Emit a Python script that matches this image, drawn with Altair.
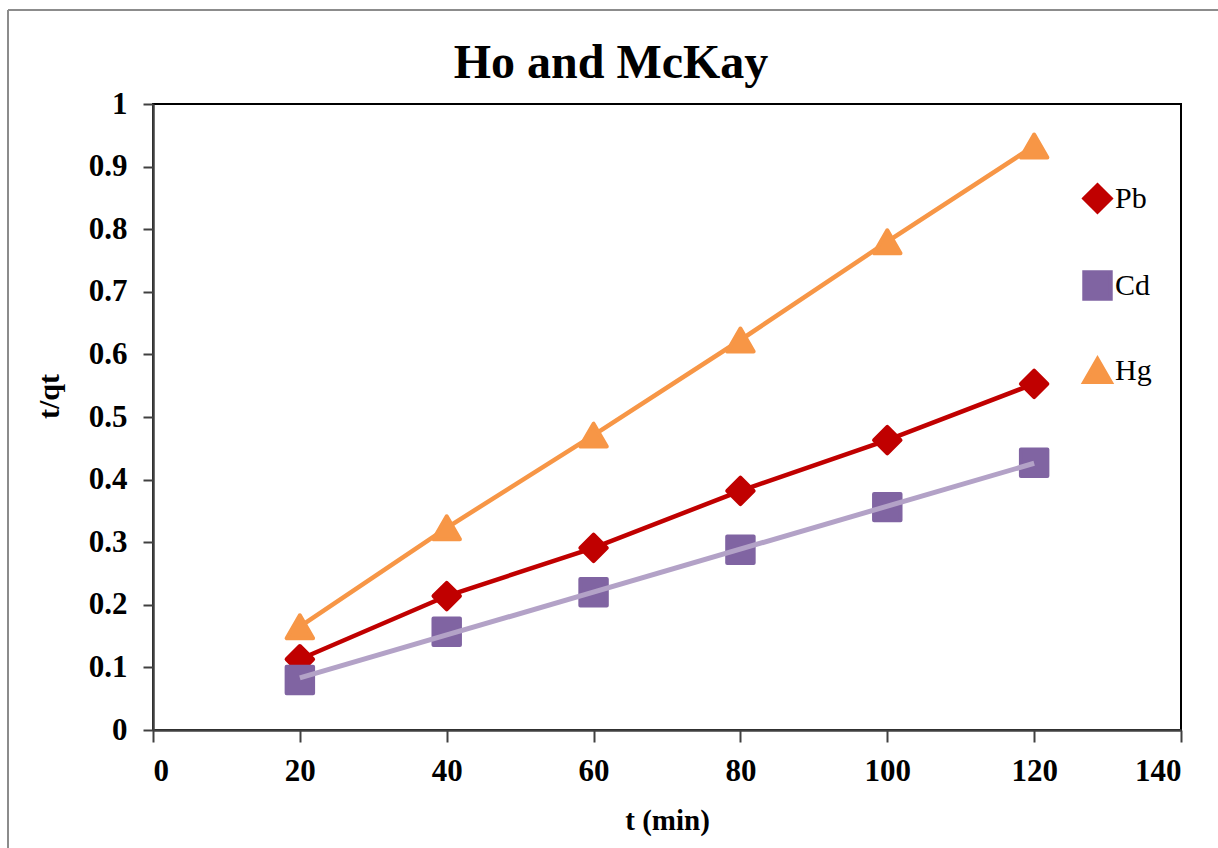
import altair as alt
import pandas as pd

# Ho and McKay (pseudo-second-order) plot: t/qt against contact time
times = [20, 40, 60, 80, 100, 120]
pb_vals = [0.113, 0.214, 0.291, 0.382, 0.463, 0.553]
cd_vals = [0.080, 0.157, 0.220, 0.288, 0.356, 0.427]
hg_vals = [0.165, 0.323, 0.471, 0.623, 0.780, 0.933]

metals = ["Pb", "Cd", "Hg"]
marker_colors = ["#C00000", "#8064A2", "#F79646"]
marker_shapes = ["diamond", "square", "triangle-up"]
x_ticks = [0, 20, 40, 60, 80, 100, 120, 140]
y_ticks = [0, 0.1, 0.2, 0.3, 0.4, 0.5, 0.6, 0.7, 0.8, 0.9, 1]
chart_title = "Ho and McKay"

rows = []
for metal, vals in zip(metals, [pb_vals, cd_vals, hg_vals]):
    for t, v in zip(times, vals):
        rows.append({"t": t, "tq": v, "metal": metal})
df = pd.DataFrame(rows)

FONT = "Liberation Serif"

x_enc = alt.X(
    "t:Q",
    scale=alt.Scale(domain=[0, 140], nice=False),
    axis=alt.Axis(
        values=x_ticks, title="t (min)", tickSize=12, labelPadding=14,
        titleFontSize=29, titleBaseline="alphabetic", titleY=99,
    ),
)
y_enc = alt.Y(
    "tq:Q",
    scale=alt.Scale(domain=[0, 1], nice=False),
    axis=alt.Axis(
        values=y_ticks, format=".1~f", title="t/qt", tickSize=10, labelPadding=16,
        titleFontSize=30, titleBaseline="alphabetic", titleX=-95, titleY=292,
        titleAngle=270,
    ),
)

base = alt.Chart(df)

pb_line = base.transform_filter(alt.datum.metal == "Pb").mark_line(
    color="#C00000", strokeWidth=4.5
).encode(x=x_enc, y=y_enc)

hg_line = base.transform_filter(alt.datum.metal == "Hg").mark_line(
    color="#F79646", strokeWidth=4.5
).encode(x=x_enc, y=y_enc)

# Linear trendline for Cd
cd_trend = base.transform_filter(alt.datum.metal == "Cd").transform_regression(
    "t", "tq", extent=[20, 120]
).mark_line(color="#B3A2C7", strokeWidth=5).encode(x=x_enc, y=y_enc)

legend = alt.Legend(
    title=None, orient="none", legendX=929, legendY=79, padding=0,
    rowPadding=44, labelFont=FONT, labelFontSize=30, labelColor="black",
    labelOffset=2, symbolSize=700, symbolStrokeWidth=4, symbolOpacity=1,
)

points = base.mark_point(
    filled=True, size=700, strokeWidth=4, strokeJoin="round", opacity=1
).encode(
    x=x_enc,
    y=y_enc,
    color=alt.Color("metal:N", scale=alt.Scale(domain=metals, range=marker_colors), legend=legend),
    stroke=alt.Stroke("metal:N", scale=alt.Scale(domain=metals, range=marker_colors), legend=legend),
    shape=alt.Shape("metal:N", scale=alt.Scale(domain=metals, range=marker_shapes), legend=legend),
    order=alt.Order("order:Q"),
).transform_calculate(
    order="indexof(['Pb','Cd','Hg'], datum.metal)"
)

# Chart heading and outer frame lines
single = alt.Data(values=[{"label": chart_title}])
heading = alt.Chart(single).mark_text(
    font=FONT, fontSize=48, fontWeight="bold", color="black",
    align="center", baseline="alphabetic",
).encode(text="label:N", x=alt.value(458), y=alt.value(-26))

frame_left = alt.Chart(single).mark_rule(color="#8C8C8C", strokeWidth=2).encode(
    x=alt.value(-145), y=alt.value(-94), y2=alt.value(760)
)
frame_top = alt.Chart(single).mark_rule(color="#8C8C8C", strokeWidth=2).encode(
    x=alt.value(-145), x2=alt.value(1080), y=alt.value(-94)
)

chart = alt.layer(
    pb_line, hg_line, points, cd_trend, heading, frame_left, frame_top
).properties(
    width=1028,
    height=626,
    autosize=alt.AutoSizeParams(type="none"),
    padding={"left": 153, "top": 104, "right": 37, "bottom": 118},
    background="white",
).configure_view(
    stroke="#000000", strokeWidth=2
).configure_axis(
    grid=False,
    labelFont=FONT, labelFontSize=31, labelFontWeight="bold", labelColor="black",
    titleFont=FONT, titleFontWeight="bold", titleColor="black",
    domainColor="#404040", domainWidth=2.5, tickColor="#404040", tickWidth=2,
)

chart.save("out.html", embed_options={"renderer": "svg", "actions": False})
